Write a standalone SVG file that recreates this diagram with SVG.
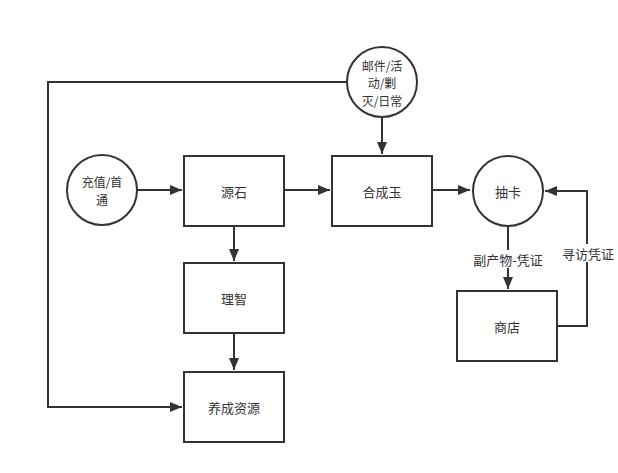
<svg xmlns="http://www.w3.org/2000/svg" width="618" height="473" viewBox="0 0 618 473">
<style>
.n{fill:#fff;stroke:#333;stroke-width:2}
.t{font-family:"Noto Sans CJK SC","Liberation Sans",sans-serif;font-size:13px;fill:#333;text-anchor:middle;dominant-baseline:central}
.s{font-size:12px}
.e{fill:none;stroke:#333;stroke-width:2}
</style>
<defs>
<marker id="a" markerWidth="12" markerHeight="10" refX="12" refY="5" orient="auto" markerUnits="userSpaceOnUse">
<path d="M0,0 L12,5 L0,10 Z" fill="#333"/>
</marker>
</defs>
<rect width="618" height="473" fill="#fff"/>
<g id="edges">
<path class="e" d="M137,190 H182" marker-end="url(#a)"/>
<path class="e" d="M284,190 H330" marker-end="url(#a)"/>
<path class="e" d="M432,190 H470" marker-end="url(#a)"/>
<path class="e" d="M382,117 V154" marker-end="url(#a)"/>
<path class="e" d="M234,226 V261" marker-end="url(#a)"/>
<path class="e" d="M234,333 V370" marker-end="url(#a)"/>
<path class="e" d="M347,82 H48 V407 H182" marker-end="url(#a)"/>
<path class="e" d="M508,226 V289" marker-end="url(#a)"/>
<path class="e" d="M557,326 H587 V191 H545" marker-end="url(#a)"/>
<rect x="471" y="250" width="74" height="18" fill="#fff"/>
<text class="t" x="508" y="259">副产物-凭证</text>
<rect x="560" y="244" width="56" height="18" fill="#fff"/>
<text class="t" x="588" y="253">寻访凭证</text>
</g>
<g id="chongzhi"><circle class="n" cx="102" cy="190" r="35"/><text class="t s" x="102" y="181.5">充值/首</text><text class="t s" x="102" y="199">通</text></g>
<g id="yuanshi"><rect class="n" x="184" y="156" width="100" height="70"/><text class="t" x="234" y="191">源石</text></g>
<g id="lizhi"><rect class="n" x="184" y="263" width="100" height="70"/><text class="t" x="234" y="298">理智</text></g>
<g id="yangcheng"><rect class="n" x="184" y="372" width="100" height="70"/><text class="t" x="234" y="407">养成资源</text></g>
<g id="hechengyu"><rect class="n" x="332" y="156" width="100" height="70"/><text class="t" x="382" y="191">合成玉</text></g>
<g id="youjian"><circle class="n" cx="382" cy="82" r="35"/><text class="t s" x="382" y="65">邮件/活</text><text class="t s" x="382" y="82.5">动/剿</text><text class="t s" x="382" y="100">灭/日常</text></g>
<g id="chouka"><circle class="n" cx="508" cy="191" r="35"/><text class="t" x="508" y="191">抽卡</text></g>
<g id="shangdian"><rect class="n" x="457" y="291" width="100" height="70"/><text class="t" x="507" y="326">商店</text></g>
</svg>
